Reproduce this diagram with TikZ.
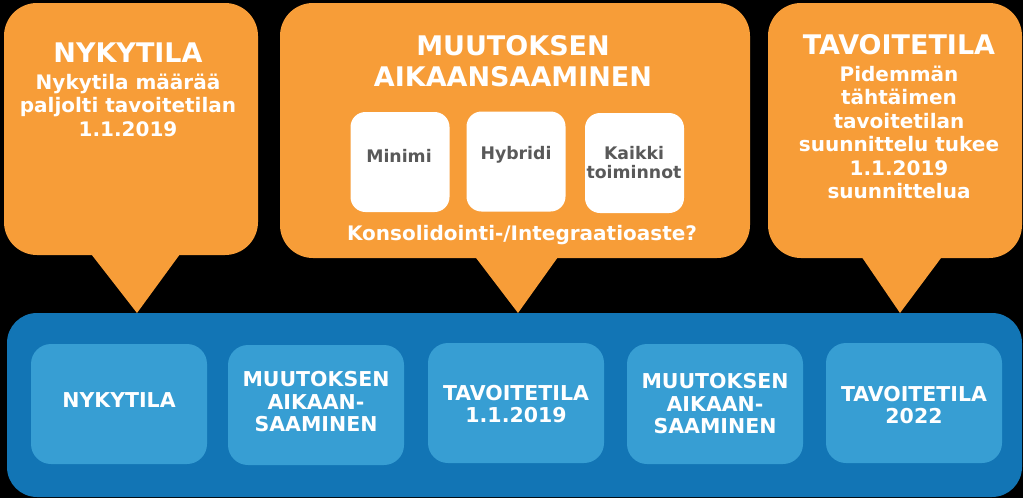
\documentclass[tikz,border=0pt]{standalone}
\usepackage{fontspec}
\setmainfont{DejaVu Sans}
\definecolor{org}{RGB}{247,157,56}
\definecolor{bandblue}{RGB}{18,117,181}
\definecolor{boxblue}{RGB}{55,158,211}
\definecolor{txtgray}{RGB}{89,89,89}
\tikzset{
  callout/.style={fill=org, draw=none, rounded corners=33pt, inner sep=0pt},
  optbox/.style={fill=white, draw=none, rounded corners=15pt, minimum width=99pt, minimum height=100pt, inner sep=0pt},
  stagebox/.style={fill=boxblue, draw=none, rounded corners=20pt, minimum width=176pt, minimum height=120pt, inner sep=0pt},
  band/.style={fill=bandblue, draw=none, rounded corners=30pt, inner sep=0pt},
  ttl/.style={text=white, align=center, font=\bfseries\fontsize{27}{31}\selectfont, inner sep=0pt},
  sub/.style={text=white, align=center, font=\bfseries\fontsize{20}{23.5}\selectfont, inner sep=0pt},
  opttxt/.style={text=txtgray, align=center, font=\bfseries\fontsize{17.3}{19}\selectfont, inner sep=0pt},
  stagetxt/.style={text=white, align=center, font=\bfseries\fontsize{20.5}{22.5}\selectfont, inner sep=0pt},
}
\begin{document}
\begin{tikzpicture}[x=1pt,y=-1pt]
\fill[black] (0,0) rectangle (1023,498);
\useasboundingbox (0,0) rectangle (1023,498);

% bottom band
\node[band, minimum width=1015pt, minimum height=184pt] (band) at (514.5,405) {};

% callout 1
\node[callout, minimum width=254pt, minimum height=252pt] (c1) at (131,129) {};
\coordinate (p1) at (137,313);
\fill[org] (88,250) -- (p1) -- (183,250) -- cycle;
\node[ttl] (t1) at (128,53) {NYKYTILA};
\node[sub] (s1) at (128,105) {Nykytila määrää\\paljolti tavoitetilan\\1.1.2019};

% callout 2
\node[callout, minimum width=470pt, minimum height=255pt] (c2) at (515,130.5) {};
\coordinate (p2) at (518,313);
\fill[org] (470,250) -- (p2) -- (563,250) -- cycle;
\node[ttl] (t2) at (513,61.5) {MUUTOKSEN\\AIKAANSAAMINEN};
\node[optbox] (o1) at (400,162) {};
\node[optbox] (o2) at (516,161.5) {};
\node[optbox] (o3) at (634.5,163) {};
\node[opttxt] at (399,156) {Minimi};
\node[opttxt] at (516,155) {Hybridi};
\node[opttxt] at (634,163) {Kaikki\\toiminnot};
\node[sub] (k2) at (522,235) {Konsolidointi-/Integraatioaste?};

% callout 3
\node[callout, minimum width=254pt, minimum height=255pt] (c3) at (895,130.5) {};
\coordinate (p3) at (900,313);
\fill[org] (857,250) -- (p3) -- (947,250) -- cycle;
\node[ttl] (t3) at (899,45) {TAVOITETILA};
\node[sub] (s3) at (899,132.5) {Pidemmän\\tähtäimen\\tavoitetilan\\suunnittelu tukee\\1.1.2019\\suunnittelua};

% stages
\node[stagebox] (b1) at (119,404) {};
\node[stagebox] (b2) at (316,405) {};
\node[stagebox] (b3) at (516,403) {};
\node[stagebox] (b4) at (715,404) {};
\node[stagebox] (b5) at (914,403) {};
\node[stagetxt] at (119,400) {NYKYTILA};
\node[stagetxt] at (316,402) {MUUTOKSEN\\AIKAAN-\\SAAMINEN};
\node[stagetxt] at (516,404) {TAVOITETILA\\1.1.2019};
\node[stagetxt] at (715,404) {MUUTOKSEN\\AIKAAN-\\SAAMINEN};
\node[stagetxt] at (914,405) {TAVOITETILA\\2022};
\end{tikzpicture}
\end{document}
